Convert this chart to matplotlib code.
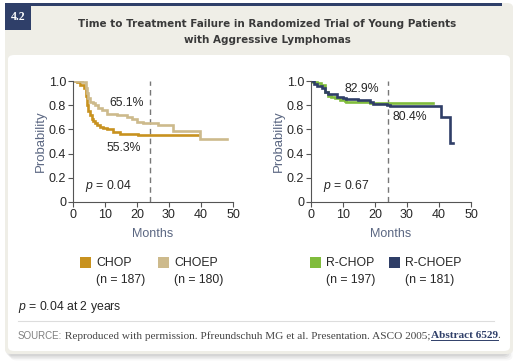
import matplotlib
matplotlib.use('Agg')
import matplotlib.pyplot as plt
from matplotlib import font_manager as fm
from matplotlib.patches import FancyBboxPatch, Rectangle

plt.rcParams['font.family'] = ['Liberation Sans', 'DejaVu Sans']
plt.rcParams['mathtext.fontset'] = 'custom'
plt.rcParams['mathtext.it'] = 'Liberation Sans:italic'
plt.rcParams['mathtext.rm'] = 'Liberation Sans'

W, H = 530, 364

# Kaplan-Meier step data (months, probability)
chop_t = [0, 1.1, 2.2, 3.4, 4.06, 4.3, 4.8, 5.3, 5.8, 6.3, 6.9, 7.6, 8.4, 9.4, 10.5, 12.6, 14.7, 20.4, 39.2]
chop_p = [1.0, 0.99, 0.97, 0.94, 0.88, 0.80, 0.75, 0.72, 0.69, 0.67, 0.65, 0.635, 0.62, 0.61, 0.60, 0.58, 0.56,
          0.553, 0.553]
choep_t = [0, 2.7, 4.06, 4.5, 4.8, 5.3, 6.1, 6.9, 7.9, 9.0, 10.5, 12.1, 13.6, 16.8, 18.3, 19.9, 22.0, 24.1,
           26.5, 29.5, 31.3, 39.7, 48]
choep_p = [1.0, 0.99, 0.94, 0.90, 0.86, 0.83, 0.815, 0.80, 0.78, 0.76, 0.73, 0.725, 0.72, 0.705, 0.69, 0.664,
           0.655, 0.651, 0.64, 0.636, 0.59, 0.52, 0.52]
rchop_t = [0, 0.6, 2.0, 3.2, 4.3, 5.3, 6.3, 7.4, 9.0, 10.5, 11.0, 18.4, 19.5, 38.2]
rchop_p = [1.0, 0.995, 0.98, 0.967, 0.91, 0.88, 0.87, 0.857, 0.845, 0.835, 0.825, 0.82, 0.815, 0.815]
rchoep_t = [0, 0.9, 2.0, 3.3, 4.4, 5.4, 8.0, 10.0, 11.0, 14.8, 18.4, 19.5, 23.6, 24.7, 40.6, 43.4, 44.5]
rchoep_p = [1.0, 0.975, 0.96, 0.94, 0.91, 0.89, 0.87, 0.86, 0.855, 0.84, 0.83, 0.81, 0.804, 0.79, 0.705, 0.485, 0.485]

left_names = ['CHOP', 'CHOEP']
left_counts = [187, 180]
right_names = ['R-CHOP', 'R-CHOEP']
right_counts = [197, 181]
left_pct = ['65.1%', '55.3%']
right_pct = ['82.9%', '80.4%']
p_values = ['0.04', '0.67']
x_ticks = [0, 10, 20, 30, 40, 50]
y_ticks = [0, 0.2, 0.4, 0.6, 0.8, 1.0]
y_ticklabels = ['0', '0.2', '0.4', '0.6', '0.8', '1.0']
landmark = 24

COL_CHOP = '#C8921F'
COL_CHOEP = '#CDBA8C'
COL_RCHOP = '#80BC3C'
COL_RCHOEP = '#2F3E67'
NAVY = '#2F3F69'
BEIGE = '#EFEEE7'
LABEL = '#5B6782'
INK = '#262626'


def fx(x):
    return x / W


def fy(y):
    return 1 - y / H


def pick_title_font():
    """Find a narrow bold sans for the heading; fall back to whatever exists."""
    tries = [('Liberation Sans Narrow', 'normal', 'Narrow'),
             ('DejaVu Sans', 'condensed', 'Condensed'),
             ('Roboto Condensed', 'normal', 'Condensed')]
    for fam, stretch, tag in tries:
        try:
            path = fm.findfont(fm.FontProperties(family=fam, stretch=stretch, weight='bold'),
                               fallback_to_default=False)
        except ValueError:
            continue
        if tag in path:
            return fam, stretch
    return 'Roboto', 'normal'


fig = plt.figure(figsize=(W / 100, H / 100), dpi=100)
fig.patch.set_facecolor('white')

# card shadow
for i, a in enumerate([0.05, 0.05, 0.04, 0.03]):
    fig.patches.append(FancyBboxPatch((fx(6 + i * 1.5), fy(356 + i * 1.5)), (508 - 6) / W, (356 - 5) / H,
                                      boxstyle='round,pad=0,rounding_size=0.012', transform=fig.transFigure,
                                      facecolor='black', edgecolor='none', alpha=a, zorder=0))
# beige card
fig.patches.append(FancyBboxPatch((fx(5), fy(354)), (513 - 5) / W, (354 - 3) / H,
                                  boxstyle='round,pad=0,rounding_size=0.012', transform=fig.transFigure,
                                  facecolor=BEIGE, edgecolor='none', zorder=1))
# inner white panel
fig.patches.append(FancyBboxPatch((fx(8), fy(351)), (510 - 8) / W, (351 - 55) / H,
                                  boxstyle='round,pad=0,rounding_size=0.012', transform=fig.transFigure,
                                  facecolor='white', edgecolor='none', zorder=2))
# navy top rule and number box
fig.patches.append(Rectangle((fx(5), fy(6)), (502 - 5) / W, 3 / H, transform=fig.transFigure,
                             facecolor=NAVY, edgecolor='none', zorder=3))
fig.patches.append(Rectangle((fx(5), fy(30)), 26 / W, 27 / H, transform=fig.transFigure,
                             facecolor=NAVY, edgecolor='none', zorder=3))
fig.text(fx(18), fy(17), '4.2', color='white', fontsize=8.5, fontweight='bold',
         family=['Liberation Serif'], ha='center', va='center', zorder=4)

title_fam, title_stretch = pick_title_font()
title_lines = ['Time to Treatment Failure in Randomized Trial of Young Patients', 'with Aggressive Lymphomas']
title_texts = []
for line, y in zip(title_lines, [24, 40]):
    title_texts.append(fig.text(fx(267), fy(y), line, ha='center', va='center', fontsize=10,
                                fontweight='bold', color='#3A3A3A', family=[title_fam, 'DejaVu Sans'],
                                fontstretch=title_stretch, zorder=4))


def make_axes(left_px, series, pct_texts, pct_pos, pval):
    ax = fig.add_axes([fx(left_px), fy(202), 160 / W, 121 / H], zorder=5)
    ax.patch.set_alpha(0)
    for t, p, c in series:
        ax.step(t, p, where='post', color=c, lw=1.9, solid_joinstyle='miter')
    ax.axvline(landmark, color='#777777', lw=1.0, ls=(0, (4, 3)), zorder=1)
    ax.set_xlim(0, 50)
    ax.set_ylim(0, 1.0)
    ax.set_xticks(x_ticks)
    ax.set_yticks(y_ticks)
    ax.set_yticklabels(y_ticklabels)
    for s in ['top', 'right']:
        ax.spines[s].set_visible(False)
    for s in ['left', 'bottom']:
        ax.spines[s].set_color('#555555')
        ax.spines[s].set_linewidth(0.8)
    ax.tick_params(length=3.5, width=0.8, color='#555555', labelsize=9, labelcolor=INK, pad=1.5)
    ax.set_xlabel('Months', color=LABEL, fontsize=9, labelpad=5)
    ax.set_ylabel('Probability', color=LABEL, fontsize=9.5, labelpad=1)
    for txt, (x, y) in zip(pct_texts, pct_pos):
        ax.text(x, y, txt, ha='center', va='center', fontsize=8.8, color=INK)
    ax.text(3.8, 0.13, '$p$ = ' + pval, ha='left', va='center', fontsize=8.8, color=INK)
    return ax


make_axes(73, [(chop_t, chop_p, COL_CHOP), (choep_t, choep_p, COL_CHOEP)],
          left_pct, [(16.9, 0.82), (16.0, 0.45)], p_values[0])
make_axes(311, [(rchop_t, rchop_p, COL_RCHOP), (rchoep_t, rchoep_p, COL_RCHOEP)],
          right_pct, [(16.0, 0.93), (31.0, 0.70)], p_values[1])

# legends
legend_sets = [
    (left_names, left_counts, [COL_CHOP, COL_CHOEP], [80, 158]),
    (right_names, right_counts, [COL_RCHOP, COL_RCHOEP], [310, 389]),
]
for names, counts, cols, xs in legend_sets:
    for name, n, c, x in zip(names, counts, cols, xs):
        fig.patches.append(Rectangle((fx(x), fy(268)), 11 / W, 11 / H, transform=fig.transFigure,
                                     facecolor=c, edgecolor='none', zorder=5))
        fig.text(fx(x + 16), fy(262.5), name, ha='left', va='center', fontsize=8.8, color=INK, zorder=5)
        fig.text(fx(x + 16), fy(280), f'(n = {n})', ha='left', va='center', fontsize=8.8, color=INK, zorder=5)

fig.text(fx(18), fy(307), '$p$ = 0.04 at 2 years', ha='left', va='center', fontsize=8.8, color=INK, zorder=5)
fig.add_artist(plt.Line2D([fx(18), fx(494)], [fy(321), fy(321)], transform=fig.transFigure,
                          color='#DDDDDD', lw=0.8, zorder=5))

fig.canvas.draw()
renderer = fig.canvas.get_renderer()

# fit the heading to the width it has in the source
bb = title_texts[0].get_window_extent(renderer)
scale = 373 / bb.width
for t in title_texts:
    t.set_fontsize(10 * scale)

# source line built from pieces
pieces = [
    ('SOURCE:', dict(family=['Liberation Sans'], fontsize=7.0, color='#808080')),
    (' Reproduced with permission. Pfreundschuh MG et al. Presentation. ASCO 2005;',
     dict(family=['Liberation Serif'], fontsize=8.1, color='#444444')),
    ('Abstract 6529', dict(family=['Liberation Serif'], fontsize=8.1, color='#2F3F69', fontweight='bold')),
    ('.', dict(family=['Liberation Serif'], fontsize=8.1, color='#444444')),
]
x = fx(18)
for s, kw in pieces:
    t = fig.text(x, fy(336), s, ha='left', va='center', zorder=5, **kw)
    bb = t.get_window_extent(renderer)
    if s.startswith('Abstract'):
        fig.add_artist(plt.Line2D([x, x + bb.width / W], [fy(340), fy(340)], transform=fig.transFigure,
                                  color='#2F3F69', lw=0.7, zorder=5))
    x += bb.width / W

fig.savefig('out.png', dpi=100)
